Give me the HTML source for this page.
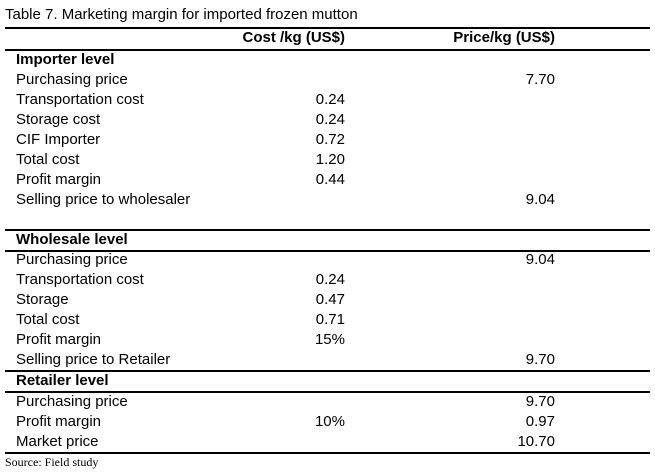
<!DOCTYPE html>
<html><head><meta charset="utf-8"><style>
body{margin:0;width:655px;height:473px;background:#fff;position:relative;font-family:"Liberation Sans",Arial,sans-serif;font-size:15px;color:#000;overflow:hidden}
.t{position:absolute;white-space:nowrap;line-height:18px}
.l{left:16px}
.c{right:310px;text-align:right}
.p{right:100px;text-align:right}
.b{font-weight:bold}
.hr{position:absolute;left:5px;width:645px;height:1.5px;background:#000}
</style></head><body>
<div class="t" style="left:5px;top:6px">Table 7. Marketing margin for imported frozen mutton</div>
<div class="hr" style="top:27px"></div>
<div class="t b c" style="top:29px">Cost /kg (US$)</div>
<div class="t b p" style="top:29px">Price/kg (US$)</div>
<div class="hr" style="top:49px"></div>
<div id="rows"></div>
<div class="hr" style="top:229px"></div>
<div class="hr" style="top:250px"></div>
<div class="hr" style="top:370px"></div>
<div class="hr" style="top:391px"></div>
<div class="hr" style="top:452px"></div>
<div class="t" style="left:5px;top:453px;font-family:'Liberation Serif',serif;font-size:12px">Source: Field study</div>
<script>
const labels=["Importer level","Purchasing price","Transportation cost","Storage cost","CIF Importer","Total cost","Profit margin","Selling price to wholesaler","Wholesale level","Purchasing price","Transportation cost","Storage","Total cost","Profit margin","Selling price to Retailer","Retailer level","Purchasing price","Profit margin","Market price"];
const costs=["","","0.24","0.24","0.72","1.20","0.44","","","","0.24","0.47","0.71","15%","","","","10%",""];
const prices=["","7.70","","","","","","9.04","","9.04","","","","","9.70","","9.70","0.97","10.70"];
const bold=[1,0,0,0,0,0,0,0,1,0,0,0,0,0,0,1,0,0,0];
const tops=[51,71,91,111,131,151,171,191,231,251,271,291,311,331,351,372,393,413,433];
const host=document.getElementById('rows');
labels.forEach((lab,i)=>{
  const a=document.createElement('div');a.className='t l'+(bold[i]?' b':'');a.style.top=tops[i]+'px';a.textContent=lab;
  
  
  host.appendChild(a);
  if(costs[i]){const c=document.createElement('div');c.className='t c';c.style.top=tops[i]+'px';c.textContent=costs[i];
  
  
  host.appendChild(c);}
  if(prices[i]){const p=document.createElement('div');p.className='t p';p.style.top=tops[i]+'px';p.textContent=prices[i];
  
  
  host.appendChild(p);}
});
</script>
</body></html>
